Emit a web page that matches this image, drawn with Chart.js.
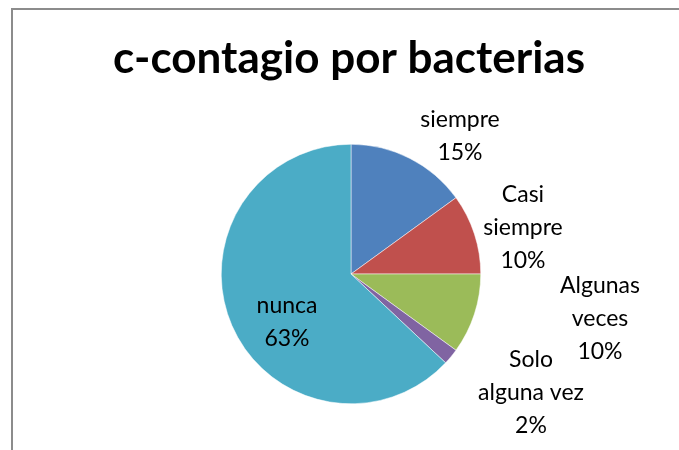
<!DOCTYPE html>
<html>
<head>
<meta charset="utf-8">
<script src="https://cdn.jsdelivr.net/npm/chart.js@4.4.0/dist/chart.umd.min.js"></script>
<style>
  html, body { margin: 0; padding: 0; background: #fff; }
  #wrap { position: relative; width: 679px; height: 450px; }
  #frame { position: absolute; left: 11px; top: 8px; width: 700px; height: 500px; border: 2px solid #8c8c8c; box-sizing: border-box; }
  canvas { position: absolute; left: 0; top: 0; }
</style>
</head>
<body>
<div id="wrap">
  <div id="frame"></div>
  <canvas id="chart" width="679" height="450"></canvas>
</div>
<script>
const chartTitle = "c-contagio por bacterias";
const categories = ["siempre", "Casi siempre", "Algunas veces", "Solo alguna vez", "nunca"];
const percentages = [15, 10, 10, 2, 63];
const sliceColors = ["#4F81BD", "#C0504D", "#9BBB59", "#8064A2", "#4BACC6"];

// label lines as Excel wraps them
const labelLines = [
  ["siempre", "15%"],
  ["Casi", "siempre", "10%"],
  ["Algunas", "veces", "10%"],
  ["Solo", "alguna vez", "2%"],
  ["nunca", "63%"],
];
// x centre and first baseline of each label
const labelAnchors = [
  [460, 127],
  [523, 202],
  [600, 293],
  [531, 367],
  [287, 313],
];

const font = "Lato, 'Open Sans', sans-serif";

const labelPlugin = {
  id: "labels",
  afterDraw(chart) {
    const ctx = chart.ctx;
    ctx.save();
    ctx.fillStyle = "#000";
    ctx.textAlign = "center";
    ctx.textBaseline = "alphabetic";
    ctx.font = "bold 44px " + font;
    ctx.fillText(chartTitle, 349, 73);
    ctx.font = "23px " + font;
    const lh = 33;
    labelLines.forEach((lines, i) => {
      const [cx, y0] = labelAnchors[i];
      lines.forEach((t, j) => ctx.fillText(t, cx, y0 + j * lh));
    });
    ctx.restore();
  },
};

new Chart(document.getElementById("chart"), {
  type: "pie",
  data: {
    labels: categories,
    datasets: [
      {
        data: percentages,
        backgroundColor: sliceColors,
        borderColor: "#ffffff",
        borderWidth: 0.5,
      },
    ],
  },
  options: {
    responsive: false,
    animation: false,
    layout: { padding: { left: 221, right: 198, top: 144, bottom: 46 } },
    plugins: {
      legend: { display: false },
      title: { display: false },
      tooltip: { enabled: false },
    },
  },
  plugins: [labelPlugin],
});
</script>
</body>
</html>
